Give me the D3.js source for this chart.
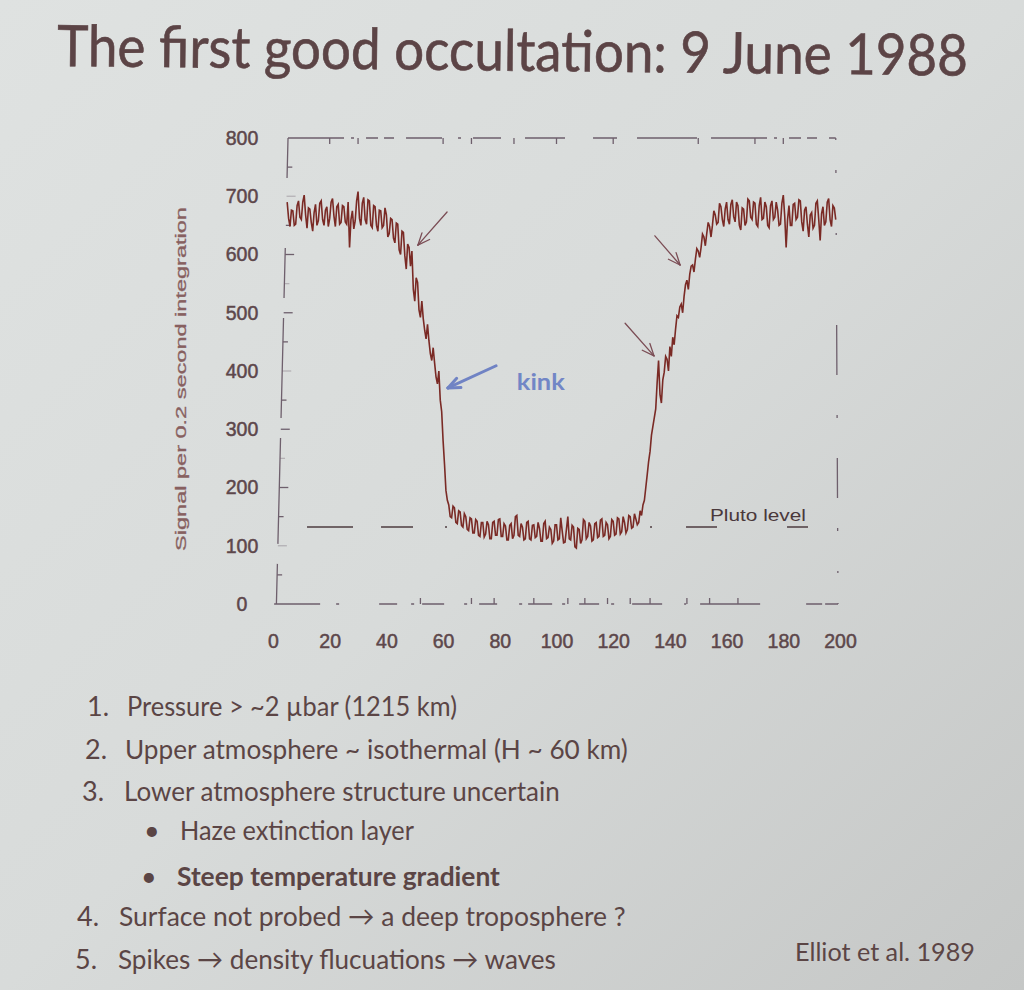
<!DOCTYPE html>
<html><head><meta charset="utf-8">
<script src="https://cdn.jsdelivr.net/npm/d3@7"></script>
<style>body{margin:0;background:#d6d9d8}svg{display:block}</style>
</head><body><svg id="c" width="1024" height="990"></svg>
<script>
// ---------- data ----------
const tStart = 5;          // time (s) of first sample
const tStep = 0.5;         // sampling step (s)
const signal = [
 690,662,648,676,675,650,652,684,692,664,
 660,690,702,668,645,680,678,655,640,672,
 686,650,658,688,692,660,650,676,682,648,
 662,690,696,666,648,682,686,652,655,684,
 682,656,652,690,612,660,675,644,658,692,
 708,662,650,688,698,660,652,694,692,650,
 646,684,682,650,640,676,675,646,650,680,
 668,630,636,662,660,628,620,654,652,608,
 600,640,638,598,575,618,612,580,606,540,
 520,560,552,505,492,520,490,470,455,480,
 452,430,418,440,414,390,378,400,350,330,
 280,240,195,178,170,150,148,168,165,140,
 138,160,158,135,132,155,150,128,126,148,
 146,122,122,145,142,118,116,140,140,115,
 120,142,136,112,112,140,142,118,118,145,
 146,116,116,138,134,110,110,135,138,112,
 118,150,152,118,116,138,132,110,112,140,
 142,112,110,135,136,114,116,140,130,108,
 108,138,142,112,114,132,128,104,108,136,
 136,110,112,148,126,105,106,128,150,112,
 110,135,132, 98, 96,130,128,104,110,145,
 142,112,116,140,134,108,110,138,140,114,
 116,144,146,116,118,140,136,112,116,145,
 142,118,120,148,146,120,124,150,140,122,
 128,152,150,130,132,155,146,136,140,160,
 152,170,178,200,222,245,262,290,305,320,
 335,380,418,360,345,385,398,425,420,400,
 442,425,458,445,472,495,492,510,515,500,
 528,548,556,540,566,580,582,570,592,610,
 606,595,612,635,630,615,636,655,648,630,
 650,675,668,652,655,688,682,660,648,678,
 690,660,652,686,694,665,656,690,684,650,
 642,680,678,650,656,695,692,664,660,690,
 688,652,648,684,698,660,662,690,682,650,
 646,684,692,660,664,690,676,650,652,688,
 702,666,612,660,684,650,650,686,688,660,
 664,694,692,656,640,676,682,652,630,668,
 672,645,650,688,692,660,624,670,682,650,
 656,690,696,660,648,684,680,660
];
const xTicks = [0,20,40,60,80,100,120,140,160,180,200];
const yTicks = [0,100,200,300,400,500,600,700,800];
const plutoLevel = 132;
const plutoLabel = "Pluto level";
const yLabel = "Signal per 0.2 second integration";
// spike arrows: tail (t, signal) -> tip (t, signal)
const spikeArrowTail = [[61.4,673],[134.7,632],[124.2,482]];
const spikeArrowTip  = [[51.1,616],[143.6,582],[134.4,426]];
const kinkTail = [78.7,409], kinkTip = [61.7,371], kinkLabelAt = [86,368];
const title = "The first good occultation: 9 June 1988";
const notes = [
 {n:"1.", text:"Pressure > ~2 \u00B5bar (1215 km)"},
 {n:"2.", text:"Upper atmosphere  ~ isothermal (H ~ 60 km)"},
 {n:"3.", text:"Lower atmosphere structure uncertain"},
 {n:"\u2022", text:"Haze extinction layer"},
 {n:"\u2022", text:"Steep temperature gradient", bold:true},
 {n:"4.", text:"Surface not probed \u2192 a deep troposphere ?"},
 {n:"5.", text:"Spikes \u2192 density flucuations \u2192 waves"}
];
const citation = "Elliot et al. 1989";

// ---------- helpers ----------
// place a text at (px,py), optionally rotated, squeezed horizontally to width w
function fit(t, px, py, w, rot){
  t.attr("x",0).attr("y",0);
  const n = t.node().getComputedTextLength();
  t.attr("transform",`translate(${px},${py}) rotate(${rot||0}) scale(${w/n},1)`);
  return t;
}

// ---------- layout ----------
const svg = d3.select("#c");
const defs = svg.append("defs");
const g0 = defs.append("linearGradient").attr("id","bg")
  .attr("x1","0").attr("y1","0").attr("x2","1").attr("y2","1");
g0.append("stop").attr("offset","0").attr("stop-color","#dfe2e1");
g0.append("stop").attr("offset","0.5").attr("stop-color","#d8dbda");
g0.append("stop").attr("offset","1").attr("stop-color","#c5c7c6");
svg.append("rect").attr("width",1024).attr("height",990).attr("fill","url(#bg)");

const textCol = "#5b4545";
fit(svg.append("text").text(title)
  .attr("font-family","Lato, 'Open Sans', sans-serif")
  .attr("font-size",57).attr("fill","#5c4446")
  .attr("stroke","#5c4446").attr("stroke-width",0.6), 57, 66, 911, 0.6);

const x = d3.scaleLinear().domain([0,200]).range([273,840]);
const y = d3.scaleLinear().domain([0,800]).range([604,138]);

const frameCol = "#6e5f6c";
const chart = svg.append("g");

// frame (broken, photocopied look)
const frame = [
  {p:[[5.3,800],[198.5,800]], dash:"56 7 3 12 12 6 10 12 36 16 3 12 28 24 40 28 24 20 60 14"},
  {p:[[198.5,800],[199.3,0]], dash:"2 30 3 60 2 90 50 40 3 40 40 30 3 40"},
  {p:[[0.4,0],[199.3,0]], dash:"46 16 3 40 18 14 3 8 22 20 3 12 18 22 3 6 24 10 3 14 20 12 3 18 30 22 2 14 60"},
  {p:[[5.3,800],[1.2,0]], dash:"40 70 50 20 100 20 106 20 60"}
];
chart.selectAll("path.frame").data(frame).join("path")
  .attr("d",d=>d3.line()(d.p.map(q=>[x(q[0]),y(q[1])])))
  .attr("fill","none").attr("stroke",frameCol).attr("stroke-width",1.3)
  .attr("stroke-dasharray",d=>d.dash);

// inner ticks on left frame
const leftAt = v => x(1.2 + (5.3-1.2)*v/800);
chart.selectAll("line.lt").data(d3.range(50,800,50)).join("line")
  .attr("x1",v=>leftAt(v)).attr("x2",v=>leftAt(v)+(v%100===0?9:5))
  .attr("y1",v=>y(v)).attr("y2",v=>y(v))
  .attr("stroke",frameCol).attr("stroke-width",1.3)
  .attr("opacity",(v,i)=>i%3===1?0.35:1);
// ticks on top / bottom
chart.selectAll("line.tt").data([20,30,60,70,85,100,120,150,170,180]).join("line")
  .attr("x1",v=>x(v)).attr("x2",v=>x(v)).attr("y1",y(800)).attr("y2",y(800)+6)
  .attr("stroke",frameCol).attr("stroke-width",1.3);
chart.selectAll("line.bt").data([52,70,78,92,104,110,118,126,133,146,154,164]).join("line")
  .attr("x1",v=>x(v)).attr("x2",v=>x(v)).attr("y1",y(0)).attr("y2",y(0)-6)
  .attr("stroke",frameCol).attr("stroke-width",1.3);

// axes labels
const xa = chart.append("g").attr("transform","translate(0,634)")
  .call(d3.axisBottom(x).tickValues(xTicks).tickSize(0).tickPadding(0));
const ya = chart.append("g").attr("transform","translate(242,0)")
  .call(d3.axisLeft(y).tickValues(yTicks).tickSize(0).tickPadding(0));
[xa,ya].forEach(a=>{
  a.select(".domain").remove();
  a.selectAll("text").attr("font-family","'Liberation Sans', Arial, sans-serif")
   .attr("font-size",19.5).attr("fill","#5d474b")
   .attr("stroke","#5d474b").attr("stroke-width",0.5);
});
ya.selectAll("text").attr("text-anchor","middle").attr("x",0);

fit(chart.append("text").text(yLabel)
  .attr("text-anchor","middle")
  .attr("font-family","'Liberation Sans', Arial, sans-serif")
  .attr("font-size",15).attr("fill","#87605f")
  .attr("stroke","#87605f").attr("stroke-width",0.3), 186, 379, 344, -90);

// Pluto level
chart.append("line")
  .attr("x1",x(12)).attr("x2",x(190)).attr("y1",y(plutoLevel)).attr("y2",y(plutoLevel))
  .attr("stroke","#4e3d40").attr("stroke-width",1.5)
  .attr("stroke-dasharray","46 28 32 32 2 203 2 34 31 70 21 200");
fit(chart.append("text").text(plutoLabel)
  .attr("font-family","'Liberation Sans', Arial, sans-serif")
  .attr("font-size",16).attr("fill","#4a383b"), 710, y(plutoLevel)-6, 96);

// light curve
const line = d3.line().x((d,i)=>x(tStart+i*tStep)).y(d=>y(d));
chart.append("path").datum(signal).attr("d",line)
  .attr("fill","none").attr("stroke","#7a2a25").attr("stroke-width",1.6)
  .attr("stroke-linejoin","miter");

// arrows
function arrow(tail,tip,col,w,head){
  const x1=x(tail[0]),y1=y(tail[1]),x2=x(tip[0]),y2=y(tip[1]);
  const a=Math.atan2(y1-y2,x1-x2);
  const g=chart.append("g").attr("stroke",col).attr("stroke-width",w)
    .attr("fill","none").attr("stroke-linecap","round");
  g.append("line").attr("x1",x1).attr("y1",y1).attr("x2",x2).attr("y2",y2);
  [0.4,-0.4].forEach(da=>g.append("line").attr("x1",x2).attr("y1",y2)
    .attr("x2",x2+head*Math.cos(a+da)).attr("y2",y2+head*Math.sin(a+da)));
}
spikeArrowTail.forEach((t,i)=>arrow(t,spikeArrowTip[i],"#7b4d55",1.3,13));
arrow(kinkTail,kinkTip,"#7083c4",3,13);
fit(chart.append("text").text("kink")
  .attr("font-family","Lato, sans-serif").attr("font-weight","bold")
  .attr("font-size",23).attr("fill","#7286c6"),
  x(kinkLabelAt[0]), y(kinkLabelAt[1]), 48);

// notes
const noteLayout = [
  {nx:87, tx:127, y:716, w:330},
  {nx:85, tx:125, y:759, w:503},
  {nx:82, tx:124, y:801, w:436},
  {nx:144,tx:180, y:840, w:234},
  {nx:141,tx:177, y:886, w:323},
  {nx:77, tx:119, y:926, w:507},
  {nx:75, tx:118, y:969, w:438}
];
const ng = svg.append("g").attr("font-family","Lato, 'Open Sans', sans-serif")
  .attr("font-size",27).attr("fill",textCol);
notes.forEach((d,i)=>{
  const L = noteLayout[i];
  ng.append("text").text(d.n).attr("x",L.nx).attr("y",L.y);
  fit(ng.append("text").text(d.text)
    .attr("font-weight",d.bold?"bold":"normal"), L.tx, L.y, L.w);
});
fit(svg.append("text").text(citation)
  .attr("font-family","Lato, 'Open Sans', sans-serif").attr("font-size",25)
  .attr("fill",textCol), 795, 961, 180);
</script></body></html>
